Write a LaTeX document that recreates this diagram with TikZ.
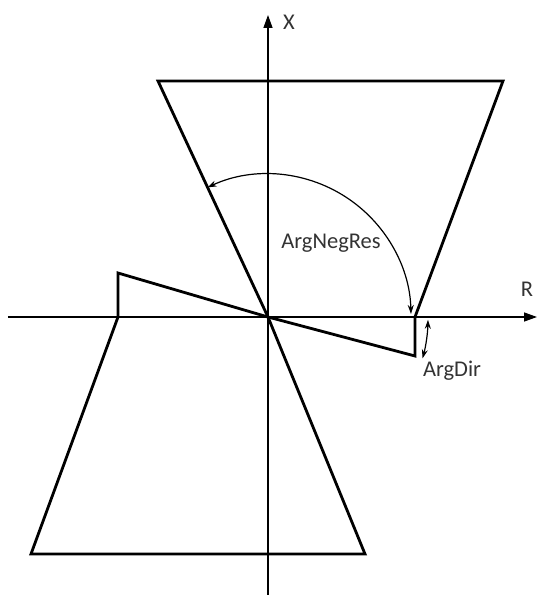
\documentclass[tikz,border=0pt]{standalone}
\usepackage{fontspec}
\setmainfont{Carlito}
\usetikzlibrary{arrows.meta}

\tikzset{
  axis/.style={line width=1.3pt, -{Triangle[length=13pt,width=9pt]}},
  zone/.style={line width=2.8pt, line join=miter},
  angarrow/.style={line width=1.2pt, {Stealth[length=9pt,width=6pt]}-{Stealth[length=9pt,width=6pt]}},
  lbl/.style={text=black!80, font=\fontsize{22.5}{27}\selectfont, inner sep=0pt}
}

\begin{document}
\begin{tikzpicture}[x=1pt,y=1pt]
\useasboundingbox (-268,-278) rectangle (272,317);

\coordinate (O) at (0,0);

% axes
\draw[axis] (-260,0) -- (269,0);
\draw[axis] (0,-278) -- (0,302);
\node[lbl] (xlabel) at (21,295) {X};
\node[lbl] (rlabel) at (259,28) {R};

% upper zone
\coordinate (TL) at (-110,236);
\coordinate (TR) at (235,236);
\coordinate (RA) at (147,0);
\coordinate (RB) at (147,-39);
\draw[zone] (O) -- (TL) -- (TR) -- (RA) -- (RB) -- cycle;

% lower zone
\coordinate (LA) at (-150,44);
\coordinate (LB) at (-150,0);
\coordinate (BL) at (-237,-237);
\coordinate (BR) at (97,-237);
\draw[zone] (O) -- (LA) -- (LB) -- (BL) -- (BR) -- cycle;

% angles
\draw[angarrow] ([shift={(115:143)}]O) arc[start angle=115, end angle=1.2, radius=143];
\node[lbl] (negres) at (63,74) {ArgNegRes};

\draw[angarrow] ([shift={(-1:160)}]O) arc[start angle=-1, end angle=-15, radius=160];
\node[lbl] (argdir) at (184,-54) {ArgDir};

\end{tikzpicture}
\end{document}
